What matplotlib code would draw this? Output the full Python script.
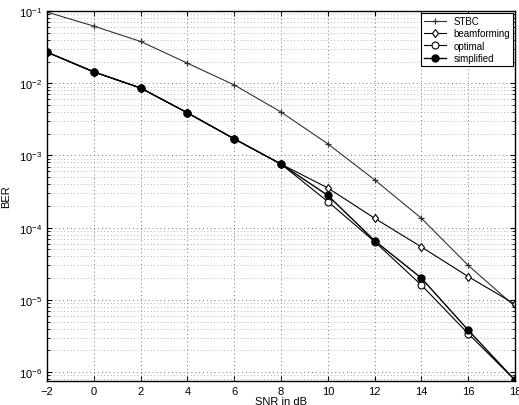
import matplotlib
matplotlib.use('Agg')
import matplotlib.pyplot as plt
from matplotlib import ticker

snr = [-2, 0, 2, 4, 6, 8, 10, 12, 14, 16, 18]
ber_stbc = [0.097, 0.062, 0.038, 0.019, 0.0095, 0.0040, 1.45e-3, 4.6e-4, 1.35e-4, 3.0e-5, 8.1e-6]
ber_beam = [0.027, 0.0144, 0.0086, 0.0039, 0.0017, 7.6e-4, 3.55e-4, 1.35e-4, 5.4e-5, 2.1e-5, 8.7e-6]
ber_opt = [0.027, 0.0144, 0.0086, 0.0039, 0.0017, 7.6e-4, 2.3e-4, 6.4e-5, 1.6e-5, 3.4e-6, 7.7e-7]
ber_simp = [0.027, 0.0144, 0.0086, 0.0039, 0.0017, 7.6e-4, 2.8e-4, 6.6e-5, 2.0e-5, 3.8e-6, 7.7e-7]
labels = ['STBC', 'beamforming', 'optimal', 'simplified']

plt.rcParams['font.family'] = ['Liberation Sans', 'DejaVu Sans']

fig = plt.figure(figsize=(5.19, 4.06), dpi=100)
ax = fig.add_axes([0.0906, 0.0591, 0.9017, 0.911])

ax.semilogy(snr, ber_stbc, linestyle='-', marker='+', color='#333333', lw=0.8, ms=5, mew=0.9, label=labels[0])
ax.semilogy(snr, ber_beam, linestyle='-', marker='d', color='black', lw=0.8, ms=4.5, mfc='white', mew=0.8, label=labels[1])
ax.semilogy(snr, ber_opt, linestyle='-', marker='o', color='black', lw=0.8, ms=5, mfc='white', mew=0.8, label=labels[2])
ax.semilogy(snr, ber_simp, linestyle='-', marker='.', color='black', lw=1.0, ms=10, label=labels[3])

ax.set_xlim(-2, 18)
ax.set_ylim(7.5e-7, 1e-1)
ax.set_xticks(range(-2, 19, 2))
ax.yaxis.set_major_locator(ticker.LogLocator(base=10, numticks=10))
ax.yaxis.set_minor_locator(ticker.LogLocator(base=10, subs=range(2, 10), numticks=20))
ax.yaxis.set_minor_formatter(ticker.NullFormatter())

ax.grid(True, which='major', linestyle=(0, (1, 3)), color='#777777', lw=0.7)
ax.grid(True, which='minor', axis='y', linestyle=(0, (1, 3)), color='#999999', lw=0.6)

ax.tick_params(which='both', direction='in', top=True, right=True, labelsize=8)
for s in ax.spines.values():
    s.set_linewidth(1.0)

ax.set_xlabel('SNR in dB', fontsize=8, labelpad=0)
ax.set_ylabel('BER', fontsize=8, labelpad=6)

leg = ax.legend(loc='upper right', fontsize=7, fancybox=False, edgecolor='black', framealpha=1,
                borderpad=0.3, labelspacing=0.25, handlelength=2.2, borderaxespad=0.2)
leg.get_frame().set_linewidth(0.8)

fig.savefig('out.png', dpi=100)
